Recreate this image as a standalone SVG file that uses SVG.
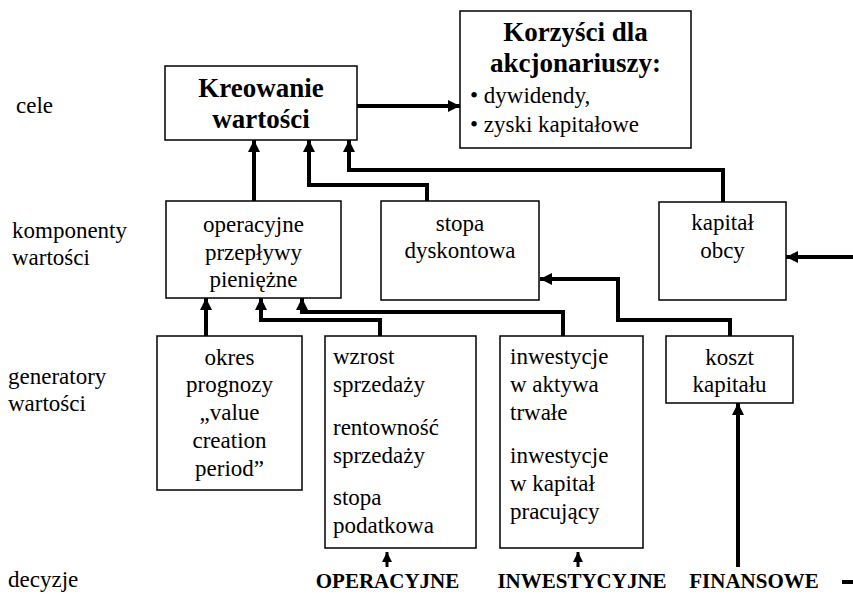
<svg xmlns="http://www.w3.org/2000/svg" width="853" height="594" viewBox="0 0 853 594" font-family="'Liberation Serif', 'Times New Roman', serif">
<defs>
<marker id="ah" markerUnits="userSpaceOnUse" markerWidth="14" markerHeight="12" refX="12" refY="6" orient="auto">
<path d="M0,0 L12,6 L0,12 Z" fill="#000"/>
</marker>
<marker id="ahs" markerUnits="userSpaceOnUse" markerWidth="12" markerHeight="10" refX="10" refY="5" orient="auto">
<path d="M0,0 L10,5 L0,10 Z" fill="#000"/>
</marker>
<style>
text{fill:#000}
.t{font-size:23px}
.c{text-anchor:middle}
.b{font-weight:bold;font-size:27px}
.d{font-weight:bold;font-size:21px}
rect{fill:#fff;stroke:#000;stroke-width:1.5}
.conn path{fill:none;stroke:#000;stroke-width:4}
.conn .s{stroke-width:3}
</style>
</defs>
<rect x="0" y="0" width="853" height="594" style="fill:#fff;stroke:none"/>

<g id="labels">
<text class="t" x="16" y="113">cele</text>
<text class="t" x="12" y="238">komponenty</text>
<text class="t" x="12" y="265">wartości</text>
<text class="t" x="8" y="384">generatory</text>
<text class="t" x="8" y="411">wartości</text>
<text class="t" x="8" y="587">decyzje</text>
</g>

<g class="conn" id="connectors">
<path d="M357,106 L460,106" marker-end="url(#ah)"/>
<path d="M254,201 L254,140" marker-end="url(#ah)"/>
<path d="M427,201 L427,185 L309,185 L309,140" marker-end="url(#ah)"/>
<path d="M723,202 L723,170 L349,170 L349,140" marker-end="url(#ah)"/>
<path d="M853,257 L786,257" marker-end="url(#ah)"/>
<path d="M206,336 L206,298" marker-end="url(#ah)"/>
<path d="M380,336 L380,320 L261,320 L261,298" marker-end="url(#ah)"/>
<path d="M563,336 L563,312 L302,312 L302,298" marker-end="url(#ah)"/>
<path d="M730,336 L730,320 L618,320 L618,279 L540,279" marker-end="url(#ah)"/>
<path d="M738,567 L738,403" marker-end="url(#ah)"/>
<path class="s" d="M387,567 L387,552" marker-end="url(#ahs)"/>
<path class="s" d="M578,567 L578,552" marker-end="url(#ahs)"/>
<path d="M842,582 L853,582"/>
</g>

<g id="kreowanie">
<rect x="165" y="66" width="192" height="74"/>
<text class="b c" x="261" y="97">Kreowanie</text>
<text class="b c" x="261" y="128">wartości</text>
</g>

<g id="korzysci">
<rect x="460" y="11" width="231" height="137"/>
<text class="b c" x="575.5" y="41">Korzyści dla</text>
<text class="b c" x="575.5" y="72">akcjonariuszy:</text>
<text class="t" x="470" y="103">• dywidendy,</text>
<text class="t" x="470" y="132">• zyski kapitałowe</text>
</g>

<g id="operacyjne">
<rect x="166" y="201" width="175" height="97"/>
<text class="t c" x="253.5" y="232">operacyjne</text>
<text class="t c" x="253.5" y="260">przepływy</text>
<text class="t c" x="253.5" y="287">pieniężne</text>
</g>

<g id="stopa">
<rect x="381" y="201" width="158" height="99"/>
<text class="t c" x="460" y="231">stopa</text>
<text class="t c" x="460" y="258">dyskontowa</text>
</g>

<g id="kapital">
<rect x="659" y="202" width="127" height="98"/>
<text class="t c" x="722.5" y="230">kapitał</text>
<text class="t c" x="722.5" y="258">obcy</text>
</g>

<g id="okres">
<rect x="157" y="336" width="145" height="154"/>
<text class="t c" x="229.5" y="365">okres</text>
<text class="t c" x="229.5" y="392">prognozy</text>
<text class="t c" x="229.5" y="420">„value</text>
<text class="t c" x="229.5" y="448">creation</text>
<text class="t c" x="229.5" y="476">period”</text>
</g>

<g id="wzrost">
<rect x="325" y="336" width="151" height="212"/>
<text class="t" x="333" y="364">wzrost</text>
<text class="t" x="333" y="392">sprzedaży</text>
<text class="t" x="333" y="435">rentowność</text>
<text class="t" x="333" y="463">sprzedaży</text>
<text class="t" x="333" y="505">stopa</text>
<text class="t" x="333" y="533">podatkowa</text>
</g>

<g id="inwestycje">
<rect x="500" y="336" width="143" height="212"/>
<text class="t" x="510" y="364">inwestycje</text>
<text class="t" x="510" y="392">w aktywa</text>
<text class="t" x="510" y="420">trwałe</text>
<text class="t" x="510" y="463">inwestycje</text>
<text class="t" x="510" y="491">w kapitał</text>
<text class="t" x="510" y="519">pracujący</text>
</g>

<g id="koszt">
<rect x="666" y="336" width="127" height="67"/>
<text class="t c" x="729.5" y="365">koszt</text>
<text class="t c" x="729.5" y="392">kapitału</text>
</g>

<g id="decyzje">
<text class="d c" x="387.5" y="588">OPERACYJNE</text>
<text class="d c" x="582" y="588">INWESTYCYJNE</text>
<text class="d c" x="754" y="588">FINANSOWE</text>
</g>
</svg>
